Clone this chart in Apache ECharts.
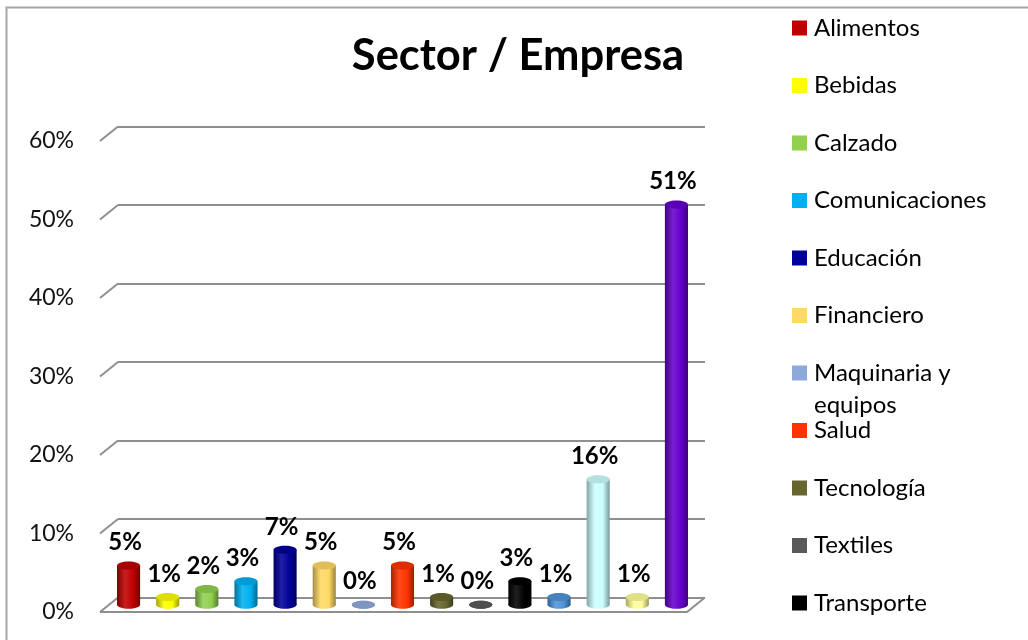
<!DOCTYPE html>
<html>
<head>
<meta charset="utf-8">
<script src="https://cdn.jsdelivr.net/npm/echarts@6/dist/echarts.min.js"></script>
<style>
  html, body { margin: 0; padding: 0; background: #fff; }
  #chart { width: 1028px; height: 640px; }
</style>
</head>
<body>
<div id="chart"></div>
<script>
// Sector shares (fraction of companies)
const sectors = ['Alimentos', 'Bebidas', 'Calzado', 'Comunicaciones', 'Educación', 'Financiero',
  'Maquinaria y equipos', 'Salud', 'Tecnología', 'Textiles', 'Transporte',
  'Turismo', 'Varios', 'Vivienda', 'Otros'];
const shares = [0.05, 0.01, 0.02, 0.03, 0.07, 0.05, 0.00, 0.05, 0.01, 0.00, 0.03, 0.01, 0.16, 0.01, 0.51];
const sectorColors = ['#C00000', '#FFFF00', '#92D050', '#00B0F0', '#00009A', '#FFD966', '#8EA9DB',
  '#FF3300', '#66662E', '#595959', '#000000', '#4F94D8', '#CCFFFF', '#FFFF99', '#6600CC'];
const yTicks = [0, 0.1, 0.2, 0.3, 0.4, 0.5, 0.6];
const legendCount = 11;

// depth of the 3D floor (back plane -> front edge)
const DX = 18, DY = 14.5;
const FONT = 'Lato, "Open Sans", sans-serif';

function mix(hex, target, t) {
  const n = parseInt(hex.slice(1), 16);
  const r = (n >> 16) & 255, g = (n >> 8) & 255, b = n & 255;
  const m = c => Math.round(c + (target - c) * t);
  return 'rgb(' + m(r) + ',' + m(g) + ',' + m(b) + ')';
}

function cylinder(params, api) {
  const idx = api.value(0), v = api.value(1);
  const color = sectorColors[idx];
  const base = api.coord([idx, 0]);
  const top = api.coord([idx, v]);
  const band = api.size([1, 0])[0];
  const w = band * 0.59, rx = w / 2, ry = 4;
  const cx = base[0] - DX / 2;
  const yb = base[1] + DY / 2;
  const yt = top[1] + DY / 2;
  const body = new echarts.graphic.LinearGradient(0, 0, 1, 0, [
    { offset: 0, color: mix(color, 0, 0.35) },
    { offset: 0.35, color: mix(color, 255, 0.12) },
    { offset: 0.7, color: color },
    { offset: 1, color: mix(color, 0, 0.4) }
  ]);
  return {
    type: 'group',
    children: [
      { type: 'ellipse', shape: { cx: cx, cy: yb, rx: rx, ry: ry }, style: { fill: body } },
      { type: 'rect', shape: { x: cx - rx, y: yt, width: w, height: yb - yt }, style: { fill: body } },
      { type: 'ellipse', shape: { cx: cx, cy: yt, rx: rx, ry: ry }, style: { fill: mix(color, 0, 0.12) } },
      { type: 'text', x: cx - 3.5, y: yt - 23, z2: 10,
        style: { text: Math.round(v * 100) + '%', align: 'center', verticalAlign: 'middle',
                 font: 'bold 24px ' + FONT, fill: '#000' } }
    ]
  };
}

// slanted side of each gridline plus the floor outline
function walls(params, api) {
  const cs = params.coordSys;
  const t = api.value(1);
  const p = api.coord([0, t]);
  const y = p[1];
  const stroke = { stroke: '#8f8f8f', lineWidth: 2, fill: null };
  const children = [
    { type: 'line', shape: { x1: cs.x - DX, y1: y + DY, x2: cs.x, y2: y }, style: stroke }
  ];
  if (t === 0) {
    children.push({ type: 'polyline', shape: { points: [
      [cs.x - DX, y + DY], [cs.x + cs.width - DX, y + DY], [cs.x + cs.width, y]
    ] }, style: stroke });
  }
  return { type: 'group', children: children };
}

const series = sectors.map((name, i) => ({
  name: name,
  type: 'custom',
  xAxisIndex: 0, yAxisIndex: 0,
  itemStyle: { color: sectorColors[i] },
  renderItem: cylinder,
  data: [[i, shares[i]]],
  z: 5
}));
series.unshift({
  type: 'custom',
  name: '_walls',
  xAxisIndex: 0, yAxisIndex: 0,
  renderItem: walls,
  data: yTicks.map(t => [0, t]),
  silent: true,
  z: 1
});

const chart = echarts.init(document.getElementById('chart'), null, { renderer: 'canvas' });
chart.setOption({
  animation: false,
  backgroundColor: '#fff',
  title: {
    text: 'Sector / Empresa',
    left: 518, top: 34, textAlign: 'center', padding: 0,
    textStyle: { fontFamily: FONT, fontWeight: 'bold', fontSize: 43.5, color: '#000' }
  },
  legend: {
    orient: 'vertical',
    left: 792, top: 11.5, padding: 0,
    itemWidth: 15, itemHeight: 15, itemGap: 24.5,
    icon: 'rect',
    data: sectors.slice(0, legendCount),
    // the long label wraps; its second line is placed below without shifting the list
    formatter: n => n.replace(' equipos', ''),
    textStyle: { fontFamily: FONT, fontSize: 24, color: '#000', lineHeight: 33, padding: [0, 0, 0, 2] }
  },
  grid: [
    { left: 118, right: 323, top: 126.5, bottom: 42.5 },
    { left: 100, right: 341, top: 141, bottom: 28 }
  ],
  xAxis: [
    { type: 'category', gridIndex: 0, data: sectors, show: false },
    { type: 'category', gridIndex: 1, data: sectors, show: false }
  ],
  yAxis: [
    { type: 'value', gridIndex: 0, min: 0, max: 0.6, interval: 0.1,
      axisLine: { show: false }, axisTick: { show: false }, axisLabel: { show: false },
      splitLine: { show: true, lineStyle: { color: '#8f8f8f', width: 2 } } },
    { type: 'value', gridIndex: 1, min: 0, max: 0.6, interval: 0.1,
      axisLine: { show: false }, axisTick: { show: false }, splitLine: { show: false },
      axisLabel: { margin: 26, fontFamily: FONT, fontSize: 23, color: '#111',
                   formatter: v => Math.round(v * 100) + '%' } }
  ],
  graphic: [
    { type: 'rect', shape: { x: 6.5, y: 7.5, width: 1100, height: 700 },
      style: { fill: null, stroke: '#a6a6a6', lineWidth: 2 }, silent: true },
    { type: 'text', x: 814, y: 405,
      style: { text: 'equipos', font: '24px ' + FONT, fill: '#000', verticalAlign: 'middle' } }
  ],
  series: series
});
</script>
</body>
</html>
